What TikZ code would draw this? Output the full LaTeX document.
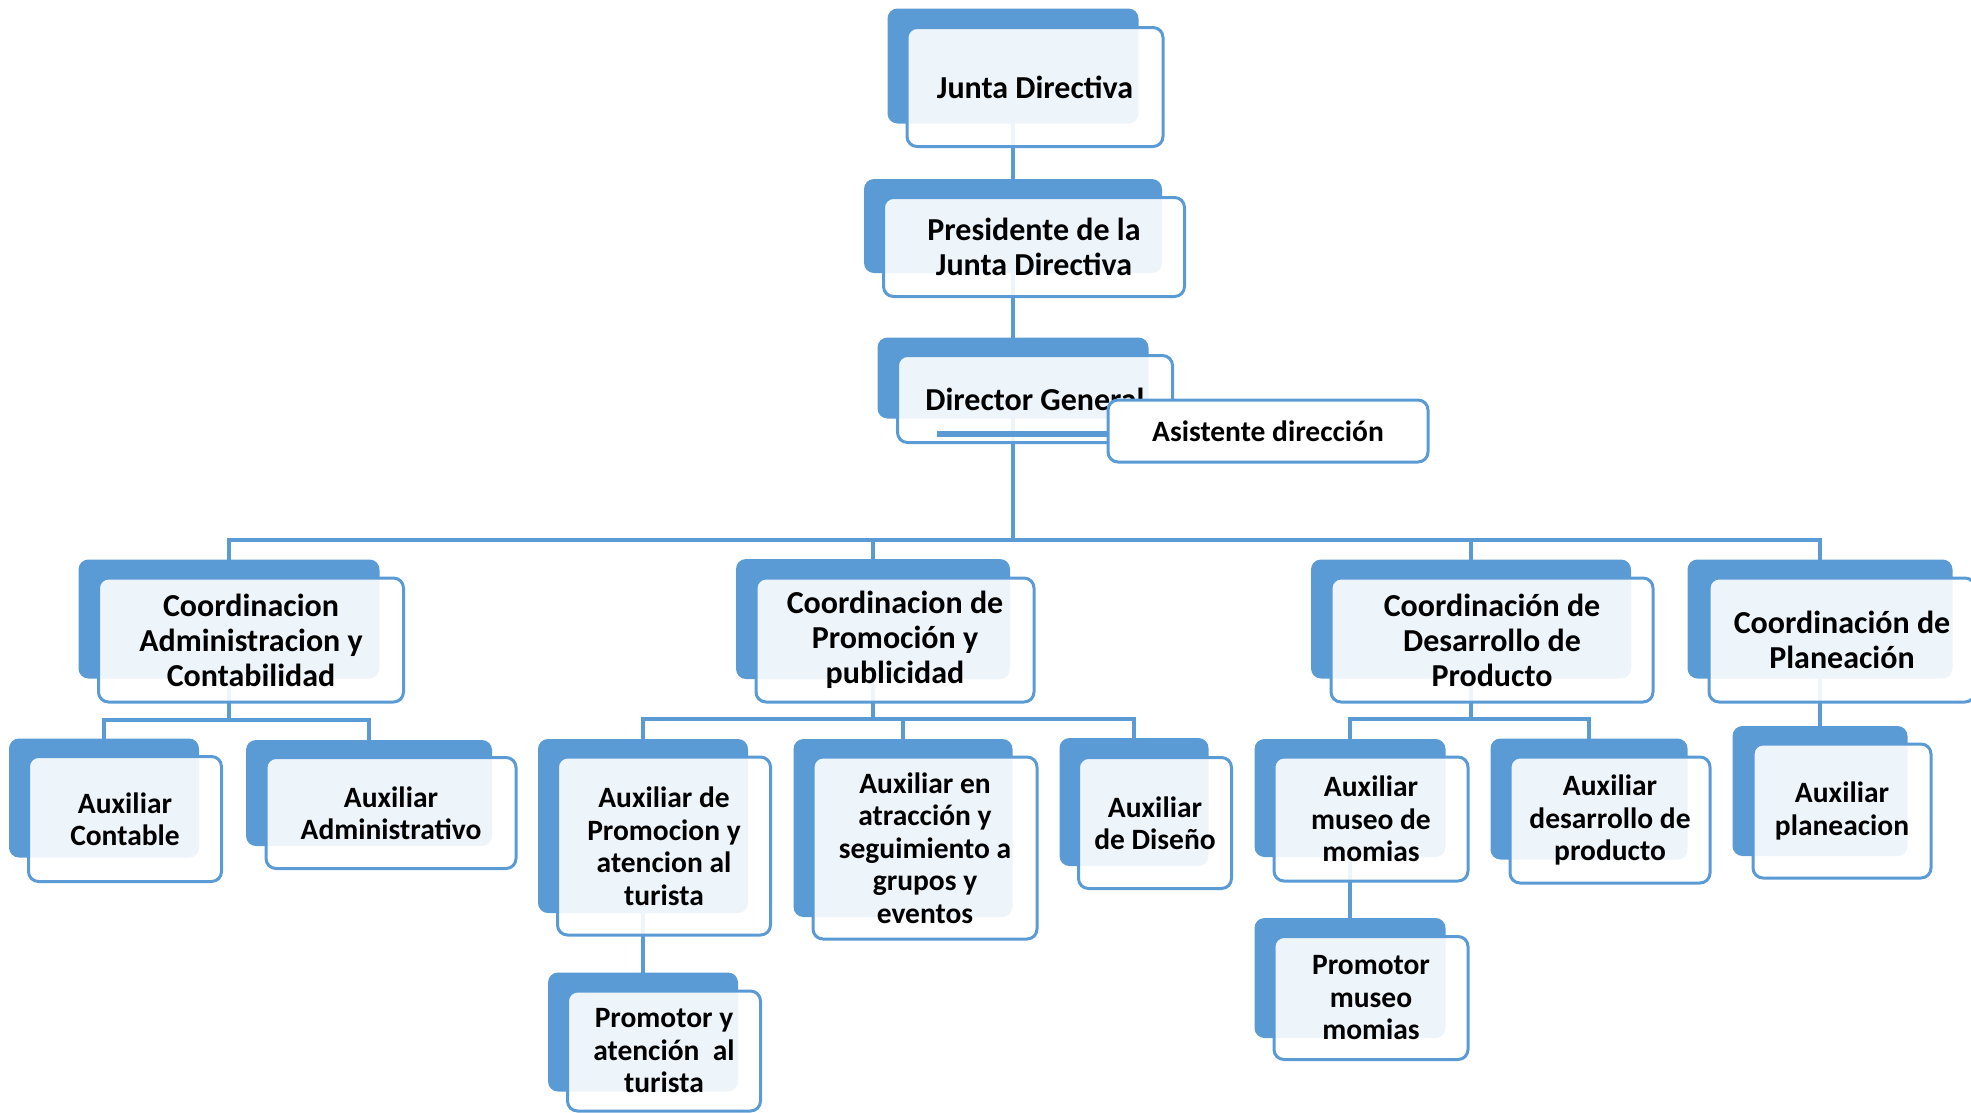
\documentclass[tikz,border=0pt]{standalone}
\usepackage{fontspec}
\setmainfont{Carlito}
\usetikzlibrary{backgrounds}
\definecolor{cardblue}{RGB}{91,155,213}

\begin{document}
\begin{tikzpicture}[x=1pt, y=-1pt,
        back/.style={fill=cardblue, rounded corners=10pt, inner sep=0pt},
        card/.style={draw=cardblue, line width=3pt, fill=white, fill opacity=0.9, text opacity=1,
                     rounded corners=10pt, inner sep=0pt, align=center,
                     font=\fontsize{29.5}{32.5}\selectfont\bfseries},
        head/.style={card, font=\fontsize{32}{35}\selectfont\bfseries},
        link/.style={draw=cardblue, line width=3.2pt},
        asistlink/.style={draw=cardblue, line width=6pt}
    ]
    \useasboundingbox (0,0) rectangle (1971,1112);

    % Top levels
    \node [back, minimum width=251, minimum height=115] (junta-b) at (1013,66) {};
    \node [head, minimum width=256, minimum height=119] (junta) at (1035,87) {Junta Directiva};
    \node [back, minimum width=298, minimum height=94] (pres-b) at (1013,226) {};
    \node [head, minimum width=301, minimum height=99] (pres) at (1034,247) {Presidente de la\\Junta Directiva};
    \node [back, minimum width=271, minimum height=81] (dir-b) at (1013,378) {};
    \node [head, minimum width=275, minimum height=87] (dir) at (1035,399) {Director General};
    \coordinate (dirlink) at (937,434);
    \node [card, fill opacity=1, minimum width=320, minimum height=62] (asist) at (1268,431) {Asistente dirección};
    \draw [asistlink] (dirlink) -- (dirlink -| asist.west);

    % Coordinations
    \node [back, minimum width=301, minimum height=119] (coordadm-b) at (229,619) {};
    \node [head, minimum width=305, minimum height=124] (coordadm) at (251,640) {Coordinacion\\Administracion y\\Contabilidad};
    \node [back, minimum width=274, minimum height=120] (coordprom-b) at (873,619) {};
    \node [head, minimum width=278, minimum height=124] (coordprom) at (895,640) {Coordinacion de\\Promoción y\\publicidad};
    \node [back, minimum width=320, minimum height=119] (coorddes-b) at (1471,619) {};
    \node [head, minimum width=322, minimum height=124] (coorddes) at (1492,640) {Coordinación de\\Desarrollo de\\Producto};
    \node [back, minimum width=265, minimum height=119] (coordplan-b) at (1820,619) {};
    \node [head, minimum width=266, minimum height=124] (coordplan) at (1842,640) {Coordinación de\\Planeación};

    % Auxiliaries
    \node [back, minimum width=190, minimum height=119] (auxcont-b) at (104,798) {};
    \node [card, minimum width=193, minimum height=125] (auxcont) at (125,819) {Auxiliar\\Contable};
    \node [back, minimum width=246, minimum height=106] (auxadm-b) at (369,793) {};
    \node [card, minimum width=250, minimum height=111] (auxadm) at (391,813) {Auxiliar\\Administrativo};
    \node [back, minimum width=210, minimum height=174] (auxprom-b) at (643,826) {};
    \node [card, minimum width=213, minimum height=178] (auxprom) at (664,846) {Auxiliar de\\Promocion y\\atencion al\\turista};
    \node [back, minimum width=190, minimum height=119] (promtur-b) at (643,1032) {};
    \node [card, minimum width=193, minimum height=120] (promtur) at (664,1051) {Promotor y\\atención\ \ al\\turista};
    \node [back, minimum width=219, minimum height=178] (auxatr-b) at (903,828) {};
    \node [card, minimum width=224, minimum height=182] (auxatr) at (925,848) {Auxiliar en\\atracción y\\seguimiento a\\grupos y\\eventos};
    \node [back, minimum width=149, minimum height=128] (auxdis-b) at (1134,802) {};
    \node [card, minimum width=153, minimum height=131] (auxdis) at (1155,823) {Auxiliar\\de Diseño};
    \node [back, minimum width=191, minimum height=118] (auxmus-b) at (1350,798) {};
    \node [card, minimum width=194, minimum height=124] (auxmus) at (1371,819) {Auxiliar\\museo de\\momias};
    \node [back, minimum width=191, minimum height=120] (prommus-b) at (1350,978) {};
    \node [card, minimum width=194, minimum height=123] (prommus) at (1371,998) {Promotor\\museo\\momias};
    \node [back, minimum width=197, minimum height=121] (auxdes-b) at (1589,799) {};
    \node [card, minimum width=200, minimum height=126] (auxdes) at (1610,820) {Auxiliar\\desarrollo de\\producto};
    \node [back, minimum width=175, minimum height=130] (auxplan-b) at (1820,791) {};
    \node [card, minimum width=178, minimum height=134] (auxplan) at (1842,811) {Auxiliar\\planeacion};

    % Connectors
    \coordinate (bus) at (1013,540);
    \coordinate (admbus) at (229,720);
    \coordinate (prombus) at (873,719);
    \coordinate (desbus) at (1471,719);
    \begin{scope}[on background layer]
        \draw [link] (junta-b.center) -- (pres-b.center);
        \draw [link] (pres-b.center) -- (dir-b.center);
        \draw [link] (dir-b.center) -- (bus);
        \draw [link] (coordadm-b.center) |- (bus);
        \draw [link] (coordprom-b.center) |- (bus);
        \draw [link] (coorddes-b.center) |- (bus);
        \draw [link] (coordplan-b.center) |- (bus);
        \draw [link] (coordadm-b.center) -- (admbus);
        \draw [link] (auxcont-b.center) |- (admbus);
        \draw [link] (auxadm-b.center) |- (admbus);
        \draw [link] (coordprom-b.center) -- (prombus);
        \draw [link] (auxprom-b.center) |- (prombus);
        \draw [link] (auxatr-b.center) |- (prombus);
        \draw [link] (auxdis-b.center) |- (prombus);
        \draw [link] (auxprom-b.center) -- (promtur-b.center);
        \draw [link] (coorddes-b.center) -- (desbus);
        \draw [link] (auxmus-b.center) |- (desbus);
        \draw [link] (auxdes-b.center) |- (desbus);
        \draw [link] (auxmus-b.center) -- (prommus-b.center);
        \draw [link] (coordplan-b.center) -- (auxplan-b.center);
    \end{scope}

\end{tikzpicture}
\end{document}
